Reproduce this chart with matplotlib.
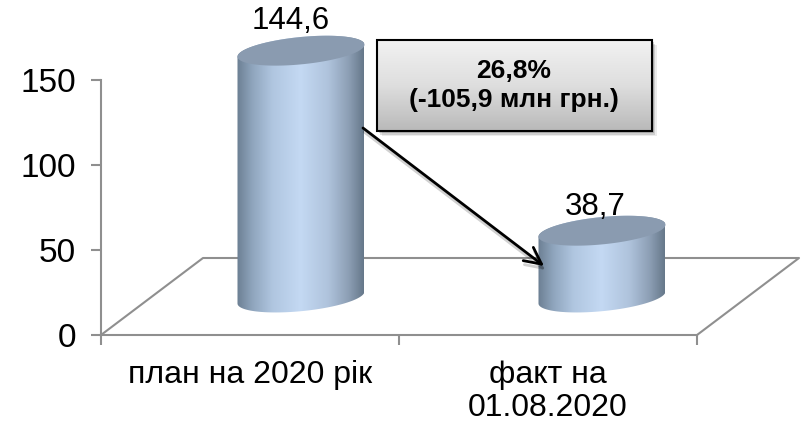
import numpy as np
import matplotlib
matplotlib.use("Agg")
import matplotlib.pyplot as plt
from matplotlib.colors import LinearSegmentedColormap
from matplotlib.patches import PathPatch, Rectangle
from matplotlib.path import Path

categories = ["план на 2020 рік", "факт на\n01.08.2020"]
values = [144.6, 38.7]
value_labels = ["144,6", "38,7"]
yticks = [0, 50, 100, 150]
note = "26,8%\n(-105,9 млн грн.)"

plt.rcParams['font.family'] = ['Liberation Sans', 'DejaVu Sans']
grey = "#8f8f8f"

W, H = 804, 424
fig = plt.figure(figsize=(W/100, H/100), dpi=100)
ax = fig.add_axes([101/W, 1-335/H, 596/W, 255/H])
ax.set_xlim(-0.5, 1.5)
ax.set_ylim(0, 150)
ax.patch.set_alpha(0)
ax.spines['top'].set_visible(False)
ax.spines['right'].set_visible(False)
ax.spines['left'].set_color(grey)
ax.spines['bottom'].set_color(grey)
ax.spines['left'].set_linewidth(1.5)
ax.spines['bottom'].set_linewidth(1.5)
ax.set_yticks(yticks)
ax.set_xticks([-0.5, 0.5, 1.5])
ax.set_xticklabels([])
ax.tick_params(axis='y', length=7, width=1.5, color=grey, labelsize=24, pad=11)
ax.tick_params(axis='x', length=7, width=1.5, color=grey)
for i, c in enumerate(categories):
    ax.annotate(c, (i, 0), xytext=(0, -18), textcoords='offset points', ha='center', va='top',
                fontsize=23, linespacing=1.12, annotation_clip=False)

# overlay in picture pixels for the fake 3d parts
pix = fig.add_axes([0, 0, 1, 1], zorder=3)
pix.set_xlim(0, W)
pix.set_ylim(H, 0)
pix.axis('off')

def to_pix(x, y):
    p = ax.transData.transform((x, y))
    return p[0], H - p[1]

# floor
depth_x, depth_y = 102, 77
x0, y0 = to_pix(-0.5, 0)
x1, y1 = to_pix(1.5, 0)
pix.plot([x0, x0+depth_x, x1+depth_x, x1],
         [y0, y0-depth_y, y1-depth_y, y1], color=grey, lw=1.5, zorder=1)

shade = LinearSegmentedColormap.from_list("cyl", [
    (0.0, "#6c7f93"), (0.12, "#8fa5bd"), (0.28, "#b0c6e0"), (0.5, "#c4d9f3"),
    (0.72, "#afc3dc"), (0.88, "#8d9fb5"), (1.0, "#66788a")])
grad = np.linspace(0, 1, 256).reshape(1, -1)

a, b, k = 63.5, 13.7, 6.0
t = np.linspace(0, 2*np.pi, 120)

def ellipse(cx, cy, tt):
    return cx + a*np.cos(tt), cy - b*np.sin(tt) - k*np.cos(tt)

for i, v in enumerate(values):
    cx, base = to_pix(i, 0)
    _, top = to_pix(i, v)
    cx += depth_x/2 + i*3
    base -= depth_y/2 - 1
    top -= depth_y/2
    # body outline: lower half of bottom ellipse + top edge
    tb = np.linspace(np.pi, 2*np.pi, 60)
    xb, yb = ellipse(cx, base, tb)
    tt = np.linspace(0, np.pi, 60)
    xt, yt = ellipse(cx, top, tt)
    verts = np.column_stack([np.r_[xb, xt], np.r_[yb, yt]])
    im = pix.imshow(grad, cmap=shade, aspect='auto', zorder=2,
                    extent=[cx-a, cx+a, base+b+k, top-b-k], interpolation='bilinear')
    body = PathPatch(Path(np.vstack([verts, verts[0]]), closed=True), transform=pix.transData)
    im.set_clip_path(body)
    xe, ye = ellipse(cx, top, t)
    pix.fill(xe, ye, color="#8a9bb0", lw=0, zorder=3)
    pix.text(cx-10 if i == 0 else cx-7, top-30 if i == 0 else top-24, value_labels[i],
             ha='center', va='center', fontsize=22.5, zorder=6)
pix.set_xlim(0, W)
pix.set_ylim(H, 0)

# note box with shadow
bx, by, bw, bh = 377, 40, 275, 91
for s, al in [(5, 0.08), (3.5, 0.12), (2, 0.16)]:
    pix.add_patch(Rectangle((bx+s, by+s), bw, bh, color="black", alpha=al, lw=0, zorder=4))
box_grad = np.linspace(0, 1, 128).reshape(-1, 1)
box_cmap = LinearSegmentedColormap.from_list("box", ["#f2f2f2", "#dedede", "#b9b9b9"])
pix.imshow(box_grad, cmap=box_cmap, aspect='auto', zorder=4.5, extent=[bx, bx+bw, by+bh, by])
pix.add_patch(Rectangle((bx, by), bw, bh, fill=False, ec="black", lw=1.5, zorder=5))
pix.text(bx+bw/2-1, by+bh/2, note, ha='center', va='center', fontsize=19, fontweight='bold',
         linespacing=1.3, zorder=6)
pix.set_xlim(0, W)
pix.set_ylim(H, 0)

# arrow and its soft shadow
for off, al in [(4, 0.18), (0, 1)]:
    pix.annotate("", xy=(544+off*0.3, 266+off), xytext=(363+off*0.3, 128+off),
                 arrowprops=dict(arrowstyle="->", color="black", alpha=al, lw=2,
                                 mutation_scale=30, shrinkA=0, shrinkB=0), zorder=5)

fig.savefig("out.png", dpi=100)
